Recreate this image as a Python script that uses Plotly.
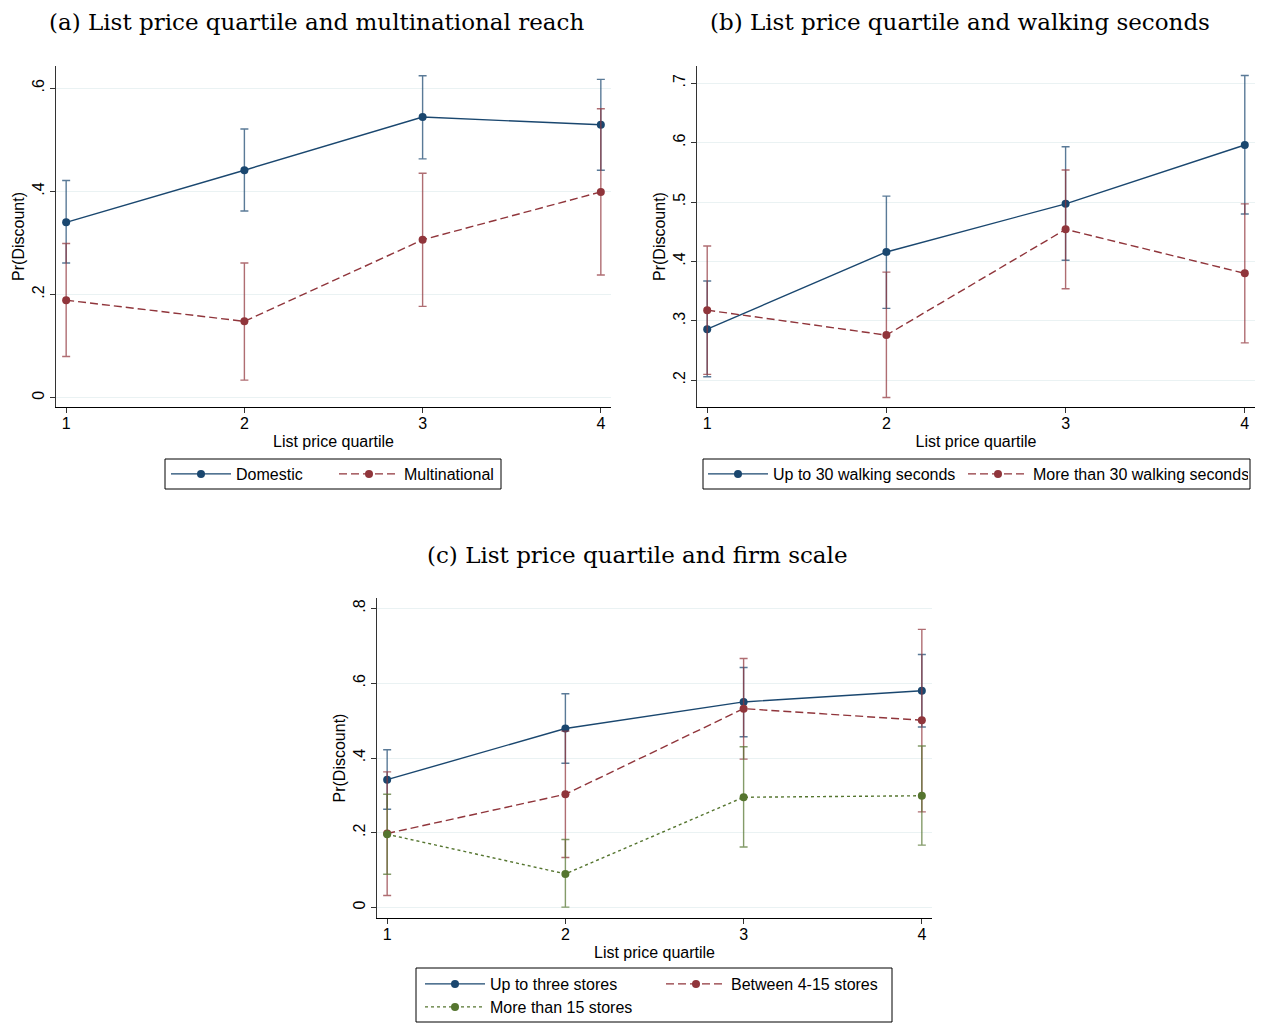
import plotly.graph_objects as go

quartiles = [1, 2, 3, 4]

# Panel (a)
dom_mean = [0.340, 0.441, 0.544, 0.529]
dom_lo = [0.261, 0.362, 0.463, 0.441]
dom_hi = [0.421, 0.521, 0.624, 0.617]
mnc_mean = [0.189, 0.148, 0.306, 0.399]
mnc_lo = [0.080, 0.034, 0.177, 0.238]
mnc_hi = [0.299, 0.261, 0.435, 0.560]

# Panel (b)
walk_up_mean = [0.286, 0.416, 0.497, 0.596]
walk_up_lo = [0.206, 0.321, 0.402, 0.480]
walk_up_hi = [0.367, 0.510, 0.593, 0.713]
walk_more_mean = [0.318, 0.276, 0.454, 0.380]
walk_more_lo = [0.210, 0.171, 0.354, 0.263]
walk_more_hi = [0.426, 0.382, 0.554, 0.497]

# Panel (c)
small_mean = [0.342, 0.479, 0.550, 0.580]
small_lo = [0.263, 0.386, 0.457, 0.483]
small_hi = [0.422, 0.572, 0.642, 0.677]
mid_mean = [0.198, 0.303, 0.532, 0.501]
mid_lo = [0.032, 0.134, 0.397, 0.256]
mid_hi = [0.363, 0.472, 0.666, 0.744]
large_mean = [0.196, 0.090, 0.295, 0.299]
large_lo = [0.089, 0.001, 0.162, 0.167]
large_hi = [0.303, 0.182, 0.430, 0.432]

titles = ["(a) List price quartile and multinational reach",
          "(b) List price quartile and walking seconds",
          "(c) List price quartile and firm scale"]
x_title = "List price quartile"
y_title = "Pr(Discount)"

NAVY = "#1a476f"
MAROON = "#90353b"
GREEN = "#55752f"
NAVY_E = "rgba(26,71,111,0.72)"
MAROON_E = "rgba(144,53,59,0.72)"
GREEN_E = "rgba(85,117,47,0.72)"

W, H = 1263, 1024
OFF = 8  # page body margin


def px_x(v):
    return (v - OFF) / W


def px_y(v):
    return 1 - (v - OFF) / H


fig = go.Figure()


def add_series(name, mean, lo, hi, color, ecolor, dash, xa, ya, legend):
    fig.add_trace(go.Scatter(
        x=quartiles, y=mean, name=name, mode="lines+markers",
        line=dict(color=color, width=1.4, dash=dash),
        marker=dict(color=color, size=8, symbol="circle"),
        error_y=dict(type="data", symmetric=False,
                     array=[h - m for h, m in zip(hi, mean)],
                     arrayminus=[m - l for m, l in zip(mean, lo)],
                     color=ecolor, thickness=1.4, width=4),
        xaxis=xa, yaxis=ya, legend=legend,
    ))


add_series("Domestic", dom_mean, dom_lo, dom_hi, NAVY, NAVY_E, "solid", "x", "y", "legend")
add_series("Multinational", mnc_mean, mnc_lo, mnc_hi, MAROON, MAROON_E, "8px,4px", "x", "y", "legend")
add_series("Up to 30 walking seconds", walk_up_mean, walk_up_lo, walk_up_hi, NAVY, NAVY_E, "solid", "x2", "y2", "legend2")
add_series("More than 30 walking seconds", walk_more_mean, walk_more_lo, walk_more_hi, MAROON, MAROON_E, "8px,4px", "x2", "y2", "legend5")
add_series("Up to three stores", small_mean, small_lo, small_hi, NAVY, NAVY_E, "solid", "x3", "y3", "legend3")
add_series("Between 4-15 stores", mid_mean, mid_lo, mid_hi, MAROON, MAROON_E, "8px,4px", "x3", "y3", "legend3")
add_series("More than 15 stores", large_mean, large_lo, large_hi, GREEN, GREEN_E, "3px,3px", "x3", "y3", "legend4")

TICKFONT = dict(family="Liberation Sans, Arial, sans-serif", size=16, color="#000")
TITLEFONT = dict(family="DejaVu Serif, Liberation Serif, serif", size=23, color="#000")


def xaxis(domain, anchor):
    return dict(domain=domain, anchor=anchor, range=[0.943, 4.057],
                tickvals=quartiles, ticktext=[str(q) for q in quartiles],
                showgrid=False, zeroline=False, showline=True,
                linecolor="#000", linewidth=1, ticks="outside", ticklen=5,
                tickcolor="#333", tickfont=TICKFONT, ticklabelstandoff=-3,
                title=dict(text=x_title, font=TICKFONT, standoff=4))


def yaxis(domain, anchor, rng, vals, texts):
    return dict(domain=domain, anchor=anchor, range=rng,
                tickvals=vals, ticktext=texts, tickangle=-90,
                showgrid=True, gridcolor="#eaf2f3", gridwidth=1.3,
                zeroline=False, showline=True, linecolor="#333",
                linewidth=1, ticks="outside", ticklen=5, tickcolor="#333",
                tickfont=TICKFONT,
                title=dict(text=y_title, font=TICKFONT, standoff=0))


ya_vals = [0, 0.2, 0.4, 0.6]
ya_text = ["0", ".2", ".4", ".6"]
yb_vals = [0.2, 0.3, 0.4, 0.5, 0.6, 0.7]
yb_text = [".2", ".3", ".4", ".5", ".6", ".7"]
yc_vals = [0, 0.2, 0.4, 0.6, 0.8]
yc_text = ["0", ".2", ".4", ".6", ".8"]

top_dom = [px_y(407), px_y(66)]
bot_dom = [px_y(918), px_y(598)]

LEGFONT = dict(family="Liberation Sans, Arial, sans-serif", size=16, color="#000")


def leg(x, y, ew):
    return dict(orientation="h", x=px_x(x), y=px_y(y), xanchor="left", yanchor="top",
                borderwidth=0, font=LEGFONT, bgcolor="rgba(0,0,0,0)",
                entrywidth=ew, entrywidthmode="pixels", itemwidth=60)


def box(x0, y0, x1, y1):
    return dict(type="rect", xref="paper", yref="paper",
                x0=px_x(x0), x1=px_x(x1), y0=px_y(y1), y1=px_y(y0),
                line=dict(color="#000", width=1), layer="below")


fig.update_layout(
    width=W, height=H, autosize=False,
    margin=dict(l=0, r=0, t=0, b=0),
    paper_bgcolor="white", plot_bgcolor="white",
    showlegend=True,
    xaxis=xaxis([px_x(56), px_x(611)], "y"),
    yaxis=yaxis(top_dom, "x", [-0.018, 0.643], ya_vals, ya_text),
    xaxis2=xaxis([px_x(697), px_x(1255)], "y2"),
    yaxis2=yaxis(top_dom, "x2", [0.155, 0.729], yb_vals, yb_text),
    xaxis3=xaxis([px_x(377), px_x(932)], "y3"),
    yaxis3=yaxis(bot_dom, "x3", [-0.028, 0.828], yc_vals, yc_text),
    legend=leg(166, 457, 93),
    legend2=leg(703, 457, 200),
    legend5=leg(963, 457, 210),
    legend3=leg(420, 967, 166),
    legend4=leg(420, 990, 166),
    shapes=[box(165, 459, 501, 489), box(703, 459, 1250, 489), box(416, 968, 892, 1022)],
    annotations=[
        dict(text=titles[0], x=px_x(316), y=px_y(22), xref="paper", yref="paper",
             showarrow=False, xanchor="center", yanchor="middle", font=TITLEFONT),
        dict(text=titles[1], x=px_x(960), y=px_y(22), xref="paper", yref="paper",
             showarrow=False, xanchor="center", yanchor="middle", font=TITLEFONT),
        dict(text=titles[2], x=px_x(637), y=px_y(555), xref="paper", yref="paper",
             showarrow=False, xanchor="center", yanchor="middle", font=TITLEFONT),
    ],
)

fig.write_html("out.html")
